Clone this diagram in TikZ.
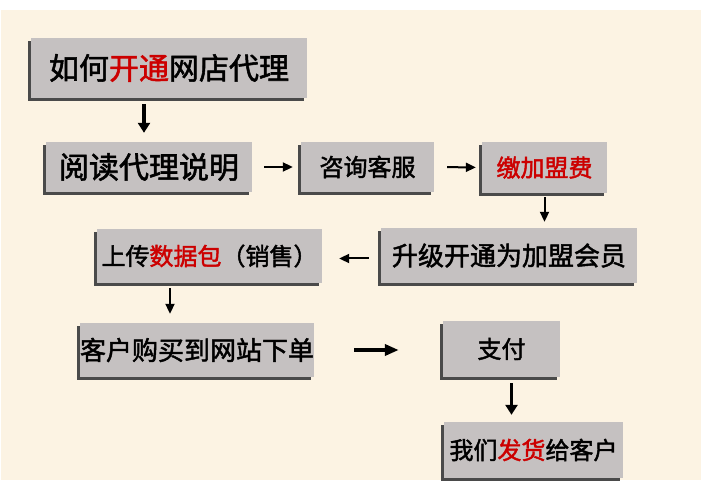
\documentclass[tikz,border=0pt]{standalone}
\usepackage{fontspec}
\setmainfont{Noto Sans CJK SC}[AutoFakeBold=1.8]
\usepackage{xcolor}
\usetikzlibrary{arrows.meta,positioning,shadows}
\definecolor{cream}{HTML}{FCF3E3}
\definecolor{boxgray}{HTML}{C5C1C1}
\definecolor{shade}{HTML}{4A4A4A}
\definecolor{hotred}{HTML}{CC0000}
\tikzset{
  stepbox/.style={
    rectangle, fill=boxgray, inner sep=0pt,
    minimum width=#1, minimum height=54pt,
    font=\fontsize{24}{26}\selectfont\bfseries, align=center,
    drop shadow={shadow xshift=-3pt, shadow yshift=-3pt, fill=shade, opacity=1}
  },
  stepbox/.default=120pt,
  bigbox/.style={
    stepbox=#1, font=\fontsize{30}{32}\selectfont\bfseries
  },
  bigarrow/.style={
    -{Triangle[length=10pt,width=12pt]}, line width=3.5pt, color=black
  },
  smallarrow/.style={
    -{Triangle[length=10pt,width=9pt]}, line width=2pt, color=black
  },
}
\newcommand{\hot}[1]{\textcolor{hotred}{#1}}
\begin{document}
\begin{tikzpicture}[x=1pt, y=1pt]
  \useasboundingbox (0,0) rectangle (715,480);
  \fill[cream] (1,0) rectangle (701,470);

  % Row 1
  \node[bigbox=276pt, minimum height=60pt] at (169,412) (how) {如何\hot{开通}网店代理};

  % Row 2
  \node[bigbox=206pt, minimum height=50pt] at (149,313) (read) {阅读代理说明};
  \node[stepbox=133pt, minimum height=50pt] at (367.5,313) (ask) {咨询客服};
  \node[stepbox=125pt, minimum height=51pt] at (544.5,312.5) (fee) {\hot{缴加盟费}};

  % Row 3
  \node[stepbox=256pt, minimum height=55pt, font=\fontsize{26}{28}\selectfont\bfseries] at (509,224.5) (upgrade) {升级开通为加盟会员};
  \node[stepbox=225pt] at (209.5,224) (upload) {上传\hot{数据包}（销售）};

  % Row 4
  \node[stepbox=230pt, font=\fontsize{26}{28}\selectfont\bfseries] at (197,130) (order) {客户购买到网站下单};
  \node[stepbox=117pt, minimum height=56pt] at (501.5,131) (pay) {支付};
  \node[stepbox=179pt, minimum height=56pt] at (533.5,30) (ship) {我们\hot{发货}给客户};

  % Arrows
  \draw[bigarrow, shorten <=6pt, shorten >=9pt] ([xshift=-5pt]read.north |- how.south) -- ([xshift=-5pt]read.north);
  \draw[smallarrow, shorten <=12pt, shorten >=8pt] (read.east) -- (ask.west);
  \draw[smallarrow, shorten <=13pt, shorten >=6pt] (ask.east) -- (fee.west);
  \draw[smallarrow, shorten <=4pt, shorten >=6pt] (fee.south) -- (fee.south |- upgrade.north);
  \draw[smallarrow, shorten <=12pt, shorten >=17pt] ([yshift=-3pt]upgrade.west) -- ([yshift=-3pt]upgrade.west -| upload.east);
  \draw[smallarrow, shorten <=5pt, shorten >=9pt] ([xshift=-27pt]order.north |- upload.south) -- ([xshift=-27pt]order.north);
  \draw[bigarrow, -{Triangle[length=14pt,width=11pt]}, shorten <=40pt, shorten >=44pt] (order.east) -- (order.east -| pay.west);
  \draw[bigarrow, shorten <=6pt, shorten >=7pt] ([xshift=10pt]pay.south) -- ([xshift=10pt]pay.south |- ship.north);
\end{tikzpicture}
\end{document}
